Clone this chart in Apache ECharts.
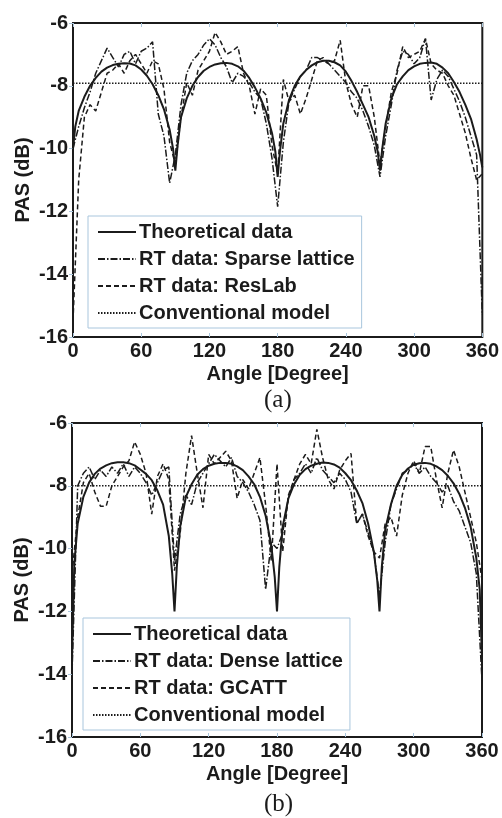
<!DOCTYPE html>
<html>
<head>
<meta charset="utf-8">
<title>PAS</title>
<script src="https://cdn.jsdelivr.net/npm/echarts@6/dist/echarts.min.js"></script>
<style>
html, body { margin: 0; padding: 0; background: #fff; }
#myChart { width: 502px; height: 818px; }
</style>
</head>
<body>
<div id="myChart"></div>
<script>
// x values (degrees)
const angles = [0, 5, 10, 15, 20, 25, 30, 35, 40, 45, 50, 55, 60, 65, 70, 75, 80, 85, 90,
	95, 100, 105, 110, 115, 120, 125, 130, 135, 140, 145, 150, 155, 160, 165, 170, 175, 180,
	185, 190, 195, 200, 205, 210, 215, 220, 225, 230, 235, 240, 245, 250, 255, 260, 265, 270,
	275, 280, 285, 290, 295, 300, 305, 310, 315, 320, 325, 330, 335, 340, 345, 350, 355, 360];
const theoryAngles = [0, 2, 5, 10, 15, 20, 25, 30, 35, 40, 45, 50, 55, 60, 65, 70, 75, 80, 85, 88, 90,
	92, 95, 100, 105, 110, 115, 120, 125, 130, 135, 140, 145, 150, 155, 160, 165, 170, 175, 178, 180,
	182, 185, 190, 195, 200, 205, 210, 215, 220, 225, 230, 235, 240, 245, 250, 255, 260, 265, 268, 270,
	272, 275, 280, 285, 290, 295, 300, 305, 310, 315, 320, 325, 330, 335, 340, 345, 350, 355, 358, 360];

// (a)
const theoryA = [-10.0, -9.3, -8.8, -8.35, -8.0, -7.75, -7.55, -7.42, -7.34, -7.3, -7.28, -7.29, -7.35, -7.48, -7.68, -7.95, -8.3, -8.75, -9.4, -10.0, -10.7,
	-9.9, -9.0, -8.4, -8.0, -7.72, -7.52, -7.4, -7.32, -7.28, -7.27, -7.3, -7.38, -7.52, -7.75, -8.05, -8.4, -8.85, -9.5, -10.1, -10.9,
	-10.1, -9.2, -8.45, -8.0, -7.7, -7.5, -7.35, -7.25, -7.2, -7.2, -7.25, -7.35, -7.55, -7.85, -8.2, -8.6, -9.0, -9.6, -10.1, -10.7,
	-10.0, -9.2, -8.4, -7.95, -7.7, -7.5, -7.38, -7.3, -7.27, -7.26, -7.3, -7.42, -7.6, -7.88, -8.2, -8.6, -9.05, -9.7, -10.2, -10.6];
const sparseLattice = [-10.0, -9.3, -8.7, -8.2, -7.6, -7.2, -6.8, -7.1, -7.4, -7.0, -6.9, -7.3, -6.9, -6.8, -6.6, -8.9, -9.6, -11.1, -10.2,
	-8.6, -7.6, -7.2, -7.0, -6.7, -6.5, -6.7, -7.1, -7.4, -7.9, -7.6, -7.7, -7.9, -8.2, -8.4, -9.2, -10.3, -11.85,
	-9.8, -8.5, -8.1, -7.7, -7.5, -7.1, -7.1, -7.2, -7.3, -7.5, -7.7, -7.9, -8.2, -8.4, -8.8, -9.3, -9.9, -10.9,
	-9.6, -8.6, -7.5, -6.9, -7.0, -7.3, -7.1, -6.5, -8.45, -7.8, -7.5, -7.7, -8.1, -8.5, -9.0, -9.6, -10.2, -15.3];
const resLab = [-15.5, -11.0, -9.0, -8.6, -8.8, -8.2, -7.6, -7.5, -7.3, -7.6, -7.2, -7.0, -7.3, -7.6, -7.2, -7.3, -8.1, -9.8, -10.5,
	-9.0, -7.9, -8.3, -7.5, -7.2, -6.9, -6.3, -6.6, -7.0, -6.9, -6.75, -7.6, -8.0, -8.9, -8.1, -8.3, -9.9, -10.8,
	-7.8, -8.5, -8.3, -8.9, -8.4, -7.8, -7.2, -7.1, -7.3, -7.2, -6.55, -7.9, -8.6, -9.0, -8.0, -8.0, -9.0, -10.5,
	-9.3, -8.2, -7.6, -6.75, -7.1, -7.0, -6.9, -6.5, -7.3, -7.5, -7.6, -8.0, -8.3, -8.9, -9.5, -10.3, -11.0, -10.8];
const conventionalA = [-7.92, -7.92];

// (b)
const theoryB = [-13.5, -10.5, -9.2, -8.35, -7.9, -7.62, -7.45, -7.35, -7.28, -7.25, -7.25, -7.28, -7.35, -7.48, -7.62, -7.82, -8.15, -8.6, -9.6, -10.8, -12.0,
	-10.6, -9.3, -8.35, -7.95, -7.65, -7.47, -7.36, -7.3, -7.27, -7.27, -7.3, -7.38, -7.5, -7.7, -7.95, -8.35, -8.95, -9.9, -10.9, -12.0,
	-10.6, -9.3, -8.4, -7.95, -7.65, -7.47, -7.36, -7.3, -7.26, -7.27, -7.32, -7.42, -7.6, -7.82, -8.15, -8.55, -9.2, -10.1, -11.0, -12.0,
	-10.6, -9.4, -8.6, -8.0, -7.65, -7.45, -7.33, -7.28, -7.27, -7.3, -7.38, -7.5, -7.68, -7.92, -8.25, -8.7, -9.3, -10.3, -11.3, -13.5];
const denseLattice = [-14.0, -8.0, -7.6, -7.4, -7.8, -7.5, -7.7, -7.4, -7.6, -7.3, -7.7, -7.4, -7.6, -7.9, -8.3, -7.9, -7.5, -7.4, -10.4,
	-8.9, -8.3, -8.6, -7.9, -7.6, -7.3, -7.0, -7.2, -7.4, -7.1, -7.7, -7.9, -8.2, -8.6, -9.1, -11.3, -9.8, -10.0,
	-9.5, -8.4, -7.8, -7.6, -7.3, -7.6, -7.1, -7.5, -7.7, -7.9, -7.6, -7.8, -8.2, -9.2, -8.9, -9.5, -10.1, -11.5,
	-9.8, -8.6, -8.1, -7.6, -7.5, -7.3, -7.6, -7.4, -7.7, -7.9, -8.2, -8.0, -8.5, -8.8, -9.3, -9.8, -10.8, -14.2];
const gcatt = [-10.8, -9.0, -7.9, -7.6, -8.2, -8.65, -8.65, -8.0, -7.7, -7.4, -7.2, -6.6, -7.0, -7.6, -8.9, -7.7, -7.3, -7.8, -10.7,
	-9.5, -7.6, -6.4, -7.6, -8.7, -7.0, -7.3, -7.1, -6.9, -7.2, -8.4, -7.8, -8.1, -7.6, -7.1, -8.6, -10.4, -7.3,
	-10.1, -8.3, -7.8, -7.3, -7.0, -7.3, -6.2, -7.1, -7.8, -8.1, -7.5, -7.2, -6.97, -9.2, -8.9, -9.6, -10.1, -10.3,
	-9.2, -9.0, -9.6, -8.3, -7.6, -7.2, -7.6, -6.75, -6.75, -7.8, -8.7, -7.6, -6.86, -7.4, -8.2, -9.0, -9.8, -11.0];
const conventionalB = [-8.0, -8.0];
const convAngles = [0, 360];

const FONT = '"Liberation Sans", Arial, sans-serif';
const INK = '#1b1b1b';
const TICK = '#aac6dd';

const grids = [
	{ left: 73, top: 23, width: 411, height: 314 },
	{ left: 72, top: 423, width: 410, height: 314 },
];

function pairs(xs, ys) {
	return xs.map((x, i) => [x, ys[i]]);
}

function makeXAxes(g) {
	return [
		{
			gridIndex: g, type: 'value', min: 0, max: 360, interval: 60,
			name: 'Angle [Degree]', nameLocation: 'middle', nameGap: 27,
			nameTextStyle: { color: INK, fontSize: 20, fontWeight: 'bold', fontFamily: FONT },
			axisLine: { show: false },
			axisTick: { show: true, inside: true, length: 4, lineStyle: { color: TICK } },
			axisLabel: { color: INK, fontSize: 20, fontWeight: 'bold', fontFamily: FONT, margin: 4 },
			splitLine: { show: false },
		},
		{
			gridIndex: g, type: 'value', min: 0, max: 360, interval: 60, position: 'top',
			axisLine: { show: false },
			axisTick: { show: true, inside: true, length: 4, lineStyle: { color: TICK } },
			axisLabel: { show: false },
			splitLine: { show: false },
		},
	];
}

function makeYAxes(g) {
	return [
		{
			gridIndex: g, type: 'value', min: -16, max: -6, interval: 2,
			name: 'PAS (dB)', nameLocation: 'middle', nameGap: 40, nameMoveOverlap: false,
			nameTextStyle: { color: INK, fontSize: 20, fontWeight: 'bold', fontFamily: FONT },
			axisLine: { show: false },
			axisTick: { show: false },
			axisLabel: { color: INK, fontSize: 20, fontWeight: 'bold', fontFamily: FONT, margin: 5 },
			splitLine: { show: false },
		},
		{
			gridIndex: g, type: 'value', min: -16, max: -6, interval: 2, position: 'right',
			axisLine: { show: false },
			axisTick: { show: true, inside: true, length: 4, lineStyle: { color: TICK } },
			axisLabel: { show: false },
			splitLine: { show: false },
		},
	];
}

function line(name, g, data, width, type) {
	return {
		name: name,
		type: 'line',
		xAxisIndex: g * 2,
		yAxisIndex: g * 2,
		symbol: 'none',
		showSymbol: false,
		animation: false,
		lineStyle: { color: INK, width: width, type: type },
		itemStyle: { color: INK, opacity: 0 },
		data: data,
	};
}

function legendFor(names, left, top) {
	return {
		orient: 'vertical',
		left: left, top: top,
		padding: [5, 7, 4, 9],
		itemWidth: 38,
		itemHeight: 14,
		itemGap: 5,
		backgroundColor: '#fff',
		borderColor: '#a9c6dd',
		borderWidth: 1,
		borderRadius: 0,
		selectedMode: false,
		itemStyle: { opacity: 0 },
		textStyle: { color: INK, fontSize: 20, fontWeight: 'bold', fontFamily: FONT, lineHeight: 22, padding: [0, 0, 0, -2] },
		data: names,
	};
}

const DASHDOT = [7, 2, 1.5, 2];
const DASHED = [5, 3];
const DOTTED = [1.5, 1.5];

const namesA = ['Theoretical data', 'RT data: Sparse lattice', 'RT data: ResLab', 'Conventional model'];
const namesB = ['Theoretical data', 'RT data: Dense lattice', 'RT data: GCATT', 'Conventional model'];

const option = {
	backgroundColor: '#fff',
	animation: false,
	grid: grids.map(g => Object.assign({ show: true, borderColor: INK, borderWidth: 2, backgroundColor: 'transparent' }, g)),
	xAxis: makeXAxes(0).concat(makeXAxes(1)),
	yAxis: makeYAxes(0).concat(makeYAxes(1)),
	legend: [
		legendFor(namesA, 88, 216),
		legendFor(namesB, 83, 618),
	],
	series: [
		line(namesA[3], 0, pairs(convAngles, conventionalA), 1.6, DOTTED),
		line(namesA[1], 0, pairs(angles, sparseLattice), 1.5, DASHDOT),
		line(namesA[2], 0, pairs(angles, resLab), 1.5, DASHED),
		line(namesA[0], 0, pairs(theoryAngles, theoryA), 2, 'solid'),
		line(namesB[3], 1, pairs(convAngles, conventionalB), 1.6, DOTTED),
		line(namesB[1], 1, pairs(angles, denseLattice), 1.5, DASHDOT),
		line(namesB[2], 1, pairs(angles, gcatt), 1.5, DASHED),
		line(namesB[0], 1, pairs(theoryAngles, theoryB), 2, 'solid'),
	],
	graphic: [
		{ type: 'text', left: 264, top: 388, style: { text: '(a)', font: '25px "Liberation Serif", "Times New Roman", serif', fill: INK } },
		{ type: 'text', left: 264, top: 792, style: { text: '(b)', font: '25px "Liberation Serif", "Times New Roman", serif', fill: INK } },
	],
};

const myChart = echarts.init(document.getElementById('myChart'));
myChart.setOption(option);
</script>
</body>
</html>
